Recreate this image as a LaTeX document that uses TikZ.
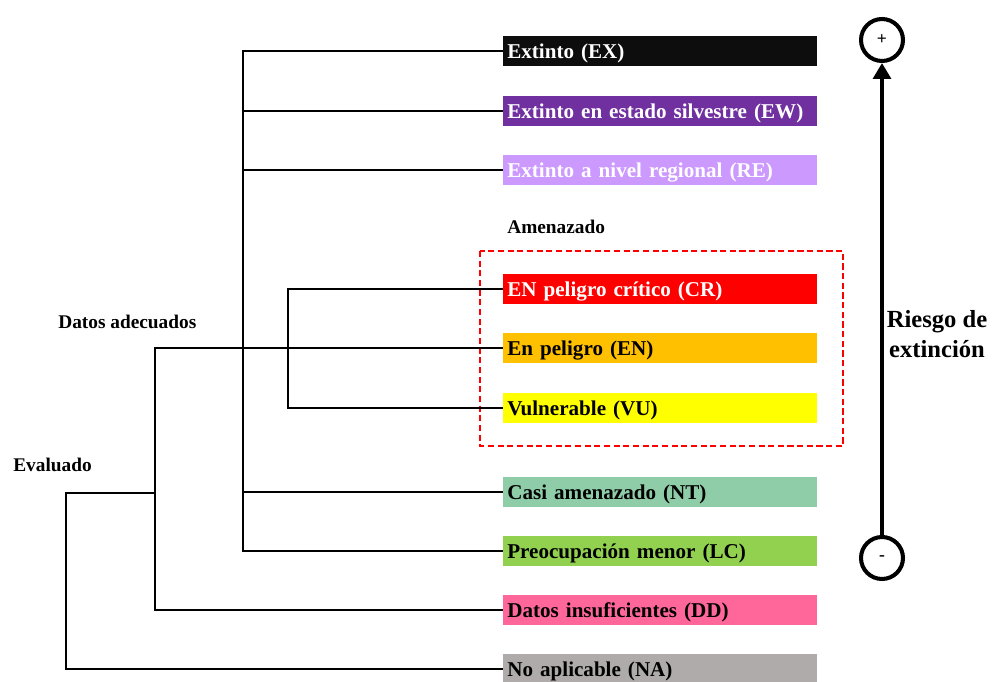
\documentclass[tikz,border=0pt]{standalone}
\usepackage{fontspec}
\setmainfont{Liberation Serif}
\usetikzlibrary{arrows.meta}
\definecolor{exc}{HTML}{0D0D0D}
\definecolor{ewc}{HTML}{7030A0}
\definecolor{rec}{HTML}{CC99FF}
\definecolor{crc}{HTML}{FF0000}
\definecolor{enc}{HTML}{FFC000}
\definecolor{vuc}{HTML}{FFFF00}
\definecolor{ntc}{HTML}{8ECDA8}
\definecolor{lcc}{HTML}{92D050}
\definecolor{ddc}{HTML}{FF6699}
\definecolor{nac}{HTML}{AFABAB}
\tikzset{
  cat/.style={anchor=west, minimum height=0.6cm, text width=6.12cm, inner xsep=0.08cm,
    inner ysep=0pt, align=left, text depth=0pt, font=\fontsize{12}{14}\selectfont\bfseries},
  grp/.style={anchor=west, inner sep=0pt, font=\fontsize{11}{13}\selectfont\bfseries},
  tree/.style={line width=1.4pt},
  ends/.style={circle, draw, line width=2.3pt, minimum size=0.84cm, inner sep=0pt,
    font=\fontsize{10}{11}\selectfont\bfseries},
}
\begin{document}
\begin{tikzpicture}[x=0.02cm,y=-0.02cm]
\useasboundingbox (0,0) rectangle (992,682);
% categorias
\node[cat, fill=exc, text=white] (ex) at (503,51) {Extinto (EX)};
\node[cat, fill=ewc, text=white] (ew) at (503,111) {Extinto en estado silvestre (EW)};
\node[cat, fill=rec, text=white] (re) at (503,170) {Extinto a nivel regional (RE)};
\node[cat, fill=crc, text=white] (cr) at (503,289) {EN peligro crítico (CR)};
\node[cat, fill=enc] (en) at (503,348) {En peligro (EN)};
\node[cat, fill=vuc] (vu) at (503,408) {Vulnerable (VU)};
\node[cat, fill=ntc] (nt) at (503,492) {Casi amenazado (NT)};
\node[cat, fill=lcc] (lc) at (503,551) {Preocupación menor (LC)};
\node[cat, fill=ddc] (dd) at (503,610) {Datos insuficientes (DD)};
\node[cat, fill=nac] (na) at (503,669) {No aplicable (NA)};
% grupos
\node[grp] (amen) at (507,227) {Amenazado};
\node[grp] (adec) at (58,322) {Datos adecuados};
\node[grp] (eval) at (13,465) {Evaluado};
\draw[red, line width=0.8pt, dash pattern=on 3.5pt off 2pt] (480,251) rectangle (843,446);
% ramas
\coordinate (sa) at (243,0);
\coordinate (sb) at (288,0);
\coordinate (sc) at (155,0);
\coordinate (ev) at (66,493);
\draw[tree] (ex.west) -- (ex.west -| sa) |- (lc.west);
\draw[tree] (ew.west) -- (ew.west -| sa);
\draw[tree] (re.west) -- (re.west -| sa);
\draw[tree] (nt.west) -- (nt.west -| sa);
\draw[tree] (cr.west) -- (cr.west -| sb) |- (vu.west);
\draw[tree] (en.west) -- (en.west -| sc) |- (dd.west);
\draw[tree] (ev -| sc) -- (ev) |- (na.west);
% riesgo
\node[ends] (plus) at (882,40) {+};
\node[ends] (minus) at (882,558) {-};
\draw[line width=2.3pt, -{Triangle[length=9pt,width=10pt]}] (minus.north) -- (plus.south);
\node[align=center, font=\fontsize{14}{17}\selectfont\bfseries] (risk) at (937,334) {Riesgo de\\extinción};
\end{tikzpicture}
\end{document}
